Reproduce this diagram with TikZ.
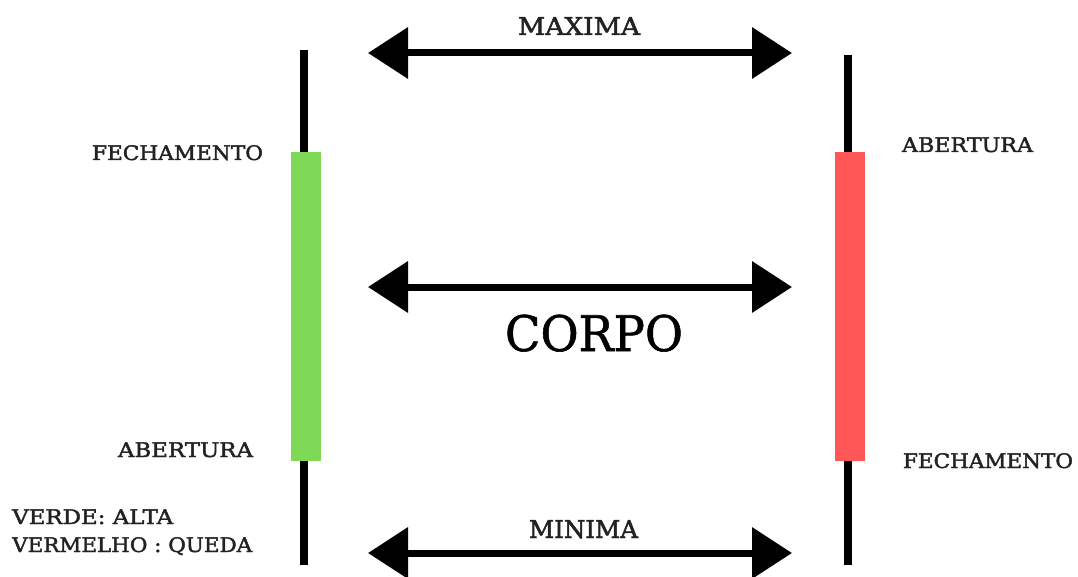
\documentclass[tikz,border=0pt]{standalone}
\usepackage{fontspec}
\usepackage{graphicx}
\setmainfont{DejaVu Serif}
\newfontfamily\labfont[FakeBold=2]{DejaVu Serif}
\newfontfamily\bigfont[FakeBold=1.2]{DejaVu Serif}
\usetikzlibrary{arrows.meta}
\definecolor{candlegreen}{HTML}{7ED957}
\definecolor{candlered}{HTML}{FF5757}
\definecolor{labgray}{HTML}{222222}
\newcommand{\fitw}[2]{\resizebox{#1pt}{\height}{#2}}
\begin{document}
\begin{tikzpicture}[x=1pt,y=-1pt,
  wick/.style={line width=8pt},
  bodybox/.style={inner sep=0pt, minimum width=30pt, minimum height=309pt},
  rangearrow/.style={line width=7pt, {Triangle[length=40pt,width=50pt]}-{Triangle[length=40pt,width=50pt]}},
  lab/.style={inner sep=0pt, anchor=base, text=labgray, font=\labfont\fontsize{20}{24}\selectfont},
  head/.style={inner sep=0pt, anchor=base, text=labgray, font=\labfont\fontsize{24.5}{28}\selectfont},
  big/.style={inner sep=0pt, anchor=base, font=\bigfont\fontsize{49}{56}\selectfont}
]
\useasboundingbox (0,0) rectangle (1078,577);
% left candle
\coordinate (lt) at (304,50);
\coordinate (lb) at (304,565);
\draw[wick] (lt) -- (lb);
\node[bodybox, fill=candlegreen] (gbody) at (306,306.5) {};
% right candle
\coordinate (rt) at (848,55);
\coordinate (rb) at (848,565);
\draw[wick] (rt) -- (rb);
\node[bodybox, fill=candlered] (rbody) at (850,306.5) {};
% arrows
\coordinate (a1l) at (368,53);  \coordinate (a1r) at (792,53);
\coordinate (a2l) at (368,287); \coordinate (a2r) at (792,287);
\coordinate (a3l) at (368,553); \coordinate (a3r) at (792,553);
\draw[rangearrow] (a1l) -- (a1r);
\draw[rangearrow] (a2l) -- (a2r);
\draw[rangearrow] (a3l) -- (a3r);
% labels
\node[head] (maxima) at (579,35) {\fitw{122}{MAXIMA}};
\node[big] (corpo) at (594,351) {\fitw{178}{CORPO}};
\node[head] (minima) at (583.5,538) {\fitw{109}{MINIMA}};
\node[lab] (fech1) at (177.5,160) {\fitw{171}{FECHAMENTO}};
\node[lab] (aber1) at (185.5,457) {\fitw{135}{ABERTURA}};
\node[lab] (aber2) at (967.5,152) {\fitw{131}{ABERTURA}};
\node[lab] (fech2) at (988,468) {\fitw{170}{FECHAMENTO}};
\node[lab, anchor=base west] (verde) at (12,524) {\fitw{161}{VERDE: ALTA}};
\node[lab, anchor=base west] (verm) at (12,552) {\fitw{240}{VERMELHO : QUEDA}};
\end{tikzpicture}
\end{document}
